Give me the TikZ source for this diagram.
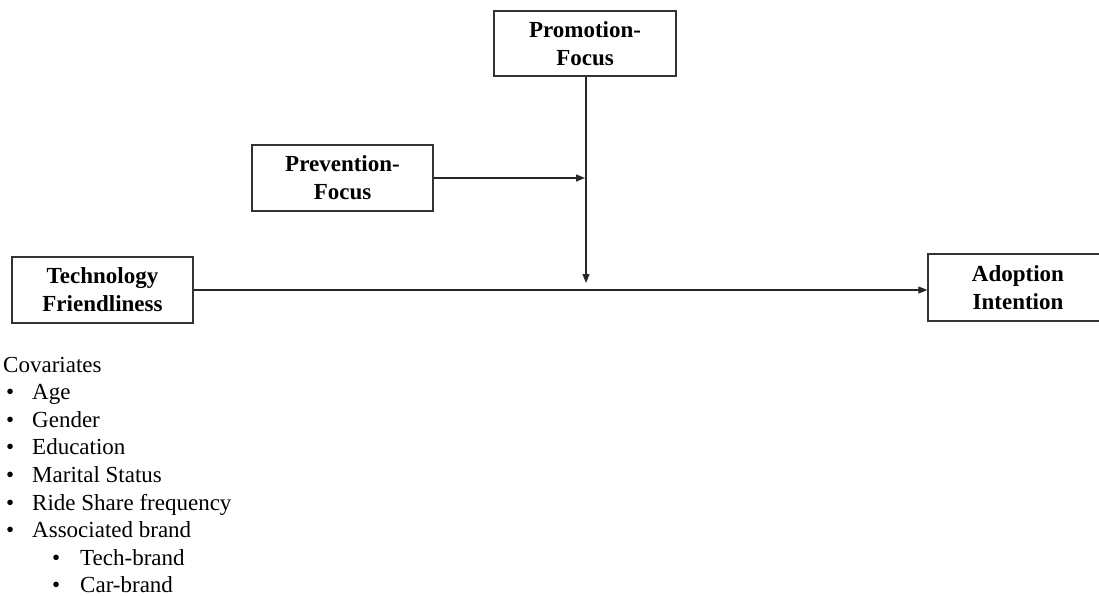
\documentclass[tikz,border=0pt]{standalone}
\usepackage{fontspec}
\setmainfont{Liberation Serif}
\usetikzlibrary{arrows.meta}
\begin{document}
\begin{tikzpicture}[x=1pt,y=-1pt,
  box/.style={draw=black!80,line width=1.3pt,inner sep=0pt,align=center,
    font=\fontsize{23}{28}\selectfont\bfseries},
  conn/.style={draw=black!85,line width=1.1pt,-{Triangle[length=9pt,width=7pt]}},
  cov/.style={anchor=base west,inner sep=0pt,font=\fontsize{23}{28}\selectfont}]
\useasboundingbox (0,0) rectangle (1099,596);
\clip (0,0) rectangle (1099,596);
% boxes
\node[box,minimum width=182pt,minimum height=65pt] (promo) at (585,43.5) {Promotion-\\Focus};
\node[box,minimum width=181pt,minimum height=66pt] (prev) at (342.5,178) {Prevention-\\Focus};
\node[box,minimum width=181pt,minimum height=66pt] (tech) at (102.5,290) {Technology\\Friendliness};
\node[box,minimum width=180pt,minimum height=67pt] (adopt) at (1018,287.5) {Adoption\\Intention};
% connectors
\coordinate (mod) at (586,290);
\coordinate (modtip) at (586,283);
\coordinate (modtop) at (585,178);
\draw[conn] (tech.east |- mod) -- (adopt.west |- mod);
\draw[conn] (promo.south -| modtip) -- (modtip);
\draw[conn] (prev.east) -- (modtop);
% covariates
\node[cov] (c0) at (3,372) {Covariates};
\foreach \t/\i in {Age/1,Gender/2,Education/3,Marital Status/4,Ride Share frequency/5,Associated brand/6}{
  \node[cov] (b\i) at (6,372+27.6*\i) {•};
  \node[cov] (t\i) at (32,372+27.6*\i) {\t};
}
\foreach \t/\i in {Tech-brand/7,Car-brand/8}{
  \node[cov] (b\i) at (52,372+27.6*\i) {•};
  \node[cov] (t\i) at (80,372+27.6*\i) {\t};
}
\end{tikzpicture}
\end{document}
